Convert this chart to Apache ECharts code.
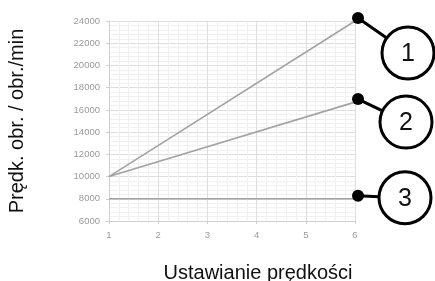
<!DOCTYPE html>
<html>
<head>
<meta charset="utf-8">
<script src="https://cdn.jsdelivr.net/npm/echarts@6/dist/echarts.min.js"></script>
<style>
  html, body { margin: 0; padding: 0; background: #fff; }
  #chart { width: 435px; height: 281px; }
</style>
</head>
<body>
<div id="chart"></div>
<script>
// data
const xValues = [1, 6];
const line1 = [10000, 24000];
const line2 = [10000, 16700];
const line3 = [8000, 8000];
const labels = ['1', '2', '3'];
// callout offsets from the end point (px)
const calloutOffsets = [[50, 35], [48, 23], [47, 2]];

const chart = echarts.init(document.getElementById('chart'), null, { renderer: 'canvas' });

function toPairs(ys) {
  return xValues.map((x, i) => [x, ys[i]]);
}

const lineStyle = { color: '#a3a3a3', width: 1.6 };

const option = {
  animation: false,
  backgroundColor: '#fff',
  grid: { left: 109, right: 80, top: 21, bottom: 60, containLabel: false, outerBoundsMode: 'none' },
  xAxis: {
    type: 'value',
    min: 1,
    max: 6,
    interval: 1,
    name: 'Ustawianie prędkości',
    nameLocation: 'middle',
    nameGap: 42,
    nameTextStyle: { fontFamily: 'Liberation Sans', fontSize: 20, color: '#111', padding: [0, 0, 0, 52] },
    axisLine: { show: true, lineStyle: { color: '#cfcfcf' } },
    axisTick: { show: true, length: 3, lineStyle: { color: '#cfcfcf' } },
    axisLabel: { fontFamily: 'Liberation Sans', fontSize: 9.5, color: '#9a9a9a', margin: 9 },
    splitLine: { show: true, lineStyle: { color: '#dedede' } },
    minorTick: { show: false, splitNumber: 5 },
    minorSplitLine: { show: true, lineStyle: { color: '#f0f0f0' } }
  },
  yAxis: {
    type: 'value',
    min: 6000,
    max: 24000,
    interval: 2000,
    name: 'Prędk. obr. / obr./min',
    nameLocation: 'middle',
    nameRotate: 90,
    nameGap: 82,
    nameTextStyle: { fontFamily: 'Liberation Sans', fontSize: 20, color: '#111' },
    axisLine: { show: true, lineStyle: { color: '#cfcfcf' } },
    axisTick: { show: true, length: 3, lineStyle: { color: '#cfcfcf' } },
    axisLabel: {
      fontFamily: 'Liberation Sans', fontSize: 9.5, color: '#9a9a9a', margin: 9,
      formatter: v => String(v)
    },
    splitLine: { show: true, lineStyle: { color: '#dedede' } },
    minorTick: { show: false, splitNumber: 5 },
    minorSplitLine: { show: true, lineStyle: { color: '#f0f0f0' } }
  },
  series: [line1, line2, line3].map(ys => ({
    type: 'line',
    data: toPairs(ys),
    symbol: 'none',
    lineStyle: lineStyle,
    z: 3
  }))
};

chart.setOption(option);

// callouts: black dot at the line end, connector, and numbered circle
const graphics = [];
[line1, line2, line3].forEach((ys, i) => {
  const last = xValues.length - 1;
  const p = chart.convertToPixel({ gridIndex: 0 }, [xValues[last], ys[last]]);
  const dx = p[0] + 3, dy = p[1] - 3;
  const off = calloutOffsets[i];
  const cx = dx + off[0], cy = dy + off[1];
  const r = 26;
  const len = Math.sqrt(off[0] * off[0] + off[1] * off[1]);
  graphics.push({
    type: 'line',
    shape: { x1: dx, y1: dy, x2: cx - off[0] / len * r, y2: cy - off[1] / len * r },
    style: { stroke: '#000', lineWidth: 3 },
    z: 10
  });
  graphics.push({
    type: 'circle',
    shape: { cx: dx, cy: dy, r: 6 },
    style: { fill: '#000' },
    z: 11
  });
  graphics.push({
    type: 'circle',
    shape: { cx: cx, cy: cy, r: r },
    style: { fill: '#fff', stroke: '#000', lineWidth: 3 },
    z: 11
  });
  graphics.push({
    type: 'text',
    x: cx,
    y: cy + 1,
    style: {
      text: labels[i],
      fontFamily: 'Liberation Sans',
      fontSize: 25,
      fill: '#111',
      align: 'center',
      verticalAlign: 'middle'
    },
    z: 12
  });
});
chart.setOption({ graphic: graphics });
</script>
</body>
</html>
